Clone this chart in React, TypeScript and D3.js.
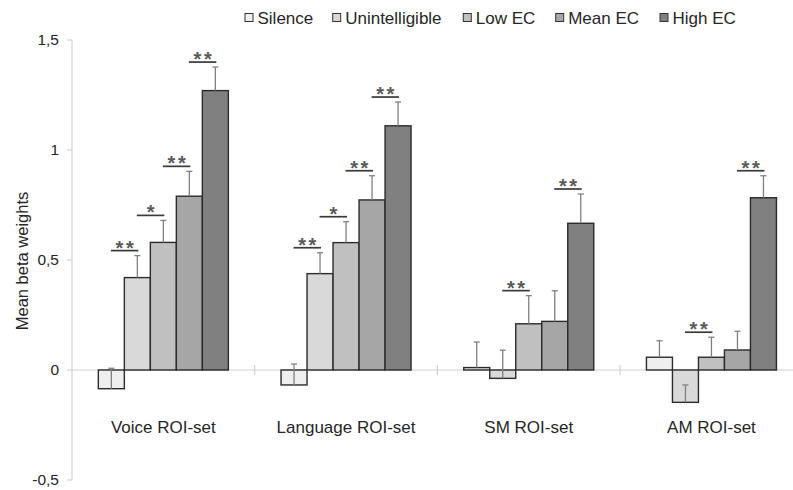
import React from "react";
import * as d3 from "d3";

const groups = ["Voice ROI-set", "Language ROI-set", "SM ROI-set", "AM ROI-set"];
const seriesNames = ["Silence", "Unintelligible", "Low EC", "Mean EC", "High EC"];
const seriesColors = ["#efefef", "#d9d9d9", "#c0c0c0", "#a6a6a6", "#808080"];

const silence = [-0.085, -0.068, 0.011, 0.058];
const unintelligible = [0.42, 0.438, -0.038, -0.147];
const lowEC = [0.58, 0.579, 0.21, 0.058];
const meanEC = [0.79, 0.773, 0.221, 0.091];
const highEC = [1.27, 1.11, 0.667, 0.783];

const silenceErr = [0.093, 0.095, 0.116, 0.075];
const unintelligibleErr = [0.1, 0.095, 0.128, 0.079];
const lowECErr = [0.1, 0.095, 0.128, 0.091];
const meanECErr = [0.113, 0.11, 0.139, 0.085];
const highECErr = [0.107, 0.108, 0.133, 0.1];

const yTicks = [-0.5, 0, 0.5, 1, 1.5];
const yTickLabels = ["-0,5", "0", "0,5", "1", "1,5"];

// significance brackets: group index, from series, to series, number of stars
const sigGroup = [0, 0, 0, 0, 1, 1, 1, 1, 2, 2, 3, 3];
const sigFrom = [0, 1, 2, 3, 0, 1, 2, 3, 1, 3, 1, 3];
const sigTo = [1, 2, 3, 4, 1, 2, 3, 4, 2, 4, 2, 4];
const sigStars = [2, 1, 2, 2, 2, 1, 2, 2, 2, 2, 2, 2];

const values = [silence, unintelligible, lowEC, meanEC, highEC];
const errors = [silenceErr, unintelligibleErr, lowECErr, meanECErr, highECErr];

const W = 793;
const H = 490;
const FONT = "'Liberation Sans', Arial, sans-serif";
const TEXT = "#262626";

export default function App() {
  const x0 = d3.scaleBand<string>().domain(groups).range([72, 72 + 4 * 182.7]).paddingInner(0).paddingOuter(0);
  const x1 = d3.scaleBand<string>().domain(seriesNames).range([0, x0.bandwidth()]).paddingInner(0).paddingOuter(1.013);
  const y = d3.scaleLinear().domain([-0.5, 1.5]).range([480, 40]);

  const legendX = [245, 332.7, 463.3, 555.7, 660];

  const barCenter = (g: number, s: number) => (x0(groups[g]) as number) + (x1(seriesNames[s]) as number) + x1.bandwidth() / 2;

  return (
    <svg width={W} height={H} style={{ position: "absolute", left: 0, top: 0, background: "#fff" }} fontFamily={FONT}>
      {/* y axis */}
      <line x1={72} x2={72} y1={y(1.5)} y2={y(-0.5)} stroke="#d0d0d0" strokeWidth={1.2} />
      {yTicks.map((t, i) => (
        <g key={"yt" + i}>
          <line x1={67} x2={72} y1={y(t)} y2={y(t)} stroke="#d0d0d0" strokeWidth={1.2} />
          <text x={59} y={y(t)} dy="0.35em" textAnchor="end" fontSize={15.5} fill={TEXT}>
            {yTickLabels[i]}
          </text>
        </g>
      ))}
      <text
        transform={`translate(22,${261}) rotate(-90)`}
        textAnchor="middle"
        dy="0.35em"
        fontSize={16.5}
        fill={TEXT}
      >
        Mean beta weights
      </text>

      {/* x axis */}
      <line x1={72} x2={W} y1={y(0)} y2={y(0)} stroke="#d0d0d0" strokeWidth={1.2} />
      {groups.map((g, i) => (
        <line key={"xt" + i} x1={(x0(g) as number) + x0.bandwidth()} x2={(x0(g) as number) + x0.bandwidth()} y1={y(0) - 5} y2={y(0) + 5} stroke="#d0d0d0" strokeWidth={1.2} />
      ))}

      {/* bars */}
      {groups.map((g, gi) =>
        seriesNames.map((s, si) => {
          const v = values[si][gi];
          const bx = (x0(g) as number) + (x1(s) as number);
          return (
            <rect
              key={`b${gi}-${si}`}
              x={bx}
              y={Math.min(y(v), y(0))}
              width={x1.bandwidth()}
              height={Math.abs(y(v) - y(0))}
              fill={seriesColors[si]}
              stroke="#2b2b2b"
              strokeWidth={1.4}
            />
          );
        })
      )}

      {/* error bars */}
      {groups.map((g, gi) =>
        seriesNames.map((s, si) => {
          const v = values[si][gi];
          const e = errors[si][gi];
          const cx = barCenter(gi, si);
          return (
            <g key={`e${gi}-${si}`} stroke="#808080" strokeWidth={1.3}>
              <line x1={cx} x2={cx} y1={y(v)} y2={y(v + e)} />
              <line x1={cx - 3} x2={cx + 3} y1={y(v + e)} y2={y(v + e)} />
            </g>
          );
        })
      )}

      {/* significance */}
      {sigGroup.map((g, i) => {
        const a = sigFrom[i];
        const b = sigTo[i];
        const top = Math.max(values[a][g] + errors[a][g], values[b][g] + errors[b][g]);
        const ly = y(top) - 5;
        const xa = barCenter(g, a) - 0.5;
        const xb = barCenter(g, b) + 1;
        const mid = (xa + xb) / 2;
        const n = sigStars[i];
        const offs = n === 1 ? [0] : [-5.2, 5.2];
        return (
          <g key={"s" + i}>
            <line x1={xa} x2={xb} y1={ly} y2={ly} stroke="#3a3a3a" strokeWidth={1.7} />
            {offs.map((o, k) => (
              <text key={k} x={mid + o} y={ly + 4} textAnchor="middle" fontSize={20} fontWeight="bold" fill="#5a5a5a">
                *
              </text>
            ))}
          </g>
        );
      })}

      {/* category labels */}
      {groups.map((g, i) => (
        <text key={"gl" + i} x={(x0(g) as number) + x0.bandwidth() / 2} y={433} textAnchor="middle" fontSize={17} fill={TEXT}>
          {g}
        </text>
      ))}

      {/* legend */}
      {seriesNames.map((s, i) => (
        <g key={"lg" + i}>
          <rect x={legendX[i]} y={13.5} width={8} height={8} fill={seriesColors[i]} stroke="#333" strokeWidth={1} />
          <text x={legendX[i] + 12.5} y={23.5} fontSize={17} fill={TEXT}>
            {s}
          </text>
        </g>
      ))}
    </svg>
  );
}
